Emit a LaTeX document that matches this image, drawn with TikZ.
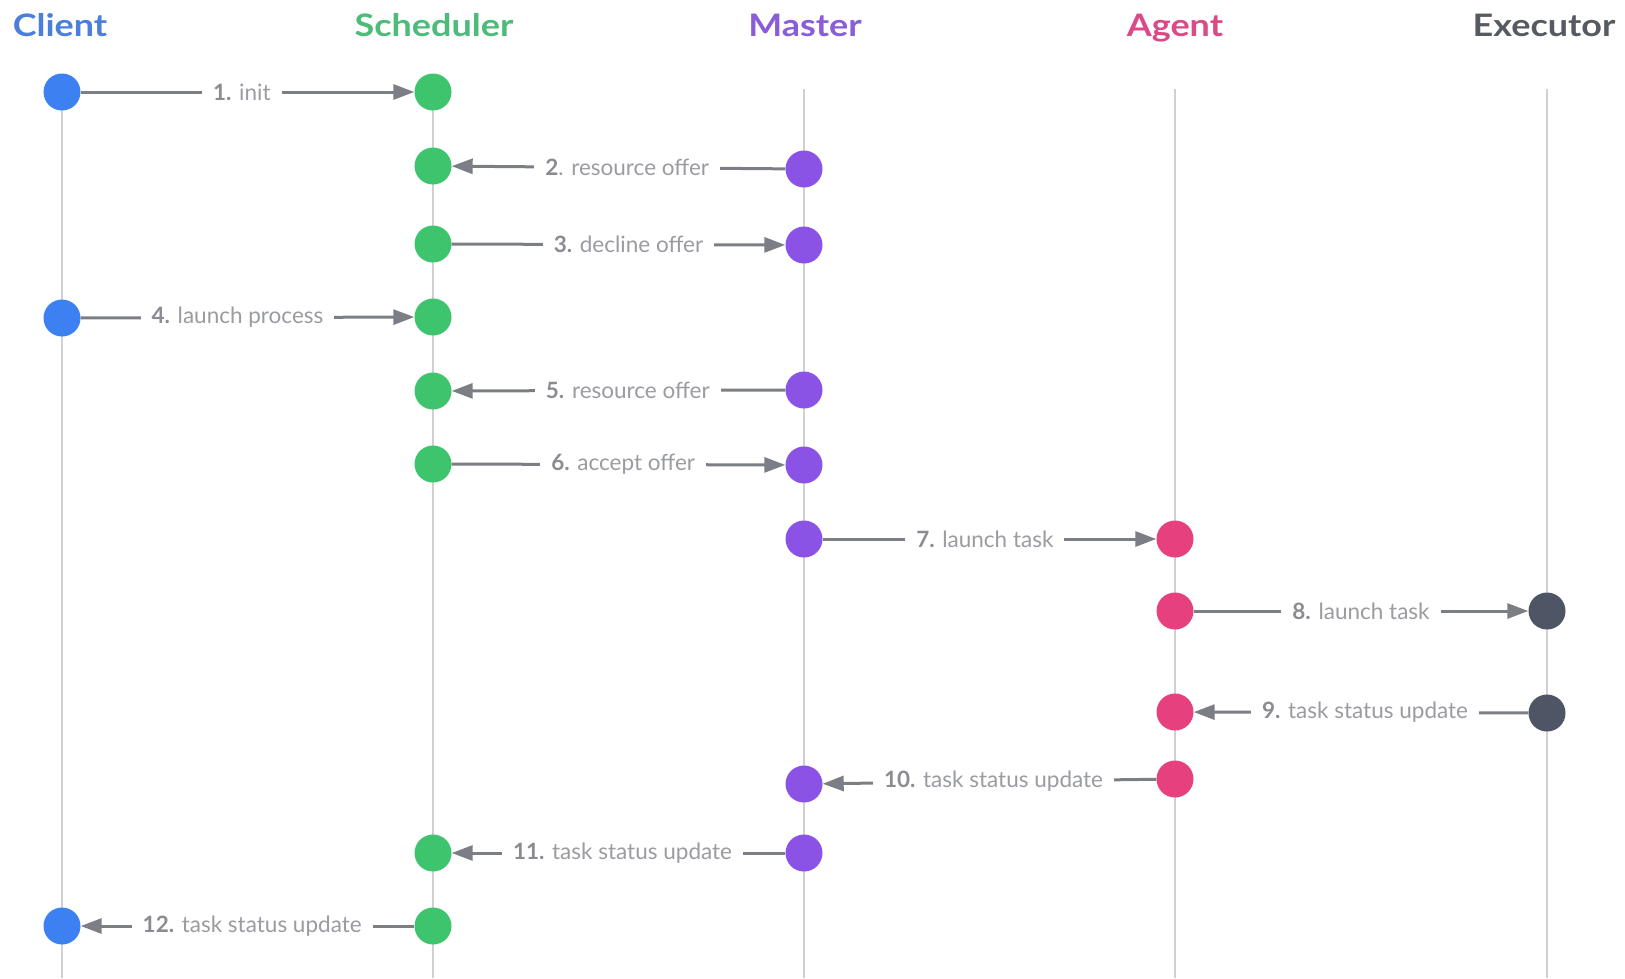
\documentclass[tikz,border=0pt]{standalone}
\usepackage{fontspec}
\setmainfont{Lato}
\newfontfamily\hdrfont[FakeStretch=1.16]{Lato}
\usetikzlibrary{arrows.meta}
\definecolor{cClient}{HTML}{3D80F2}
\definecolor{cSched}{HTML}{3EC46D}
\definecolor{cMaster}{HTML}{8B52E6}
\definecolor{cAgent}{HTML}{E6407E}
\definecolor{cExec}{HTML}{4E5565}
\definecolor{hClient}{HTML}{4A80DA}
\definecolor{hSched}{HTML}{4DBB7A}
\definecolor{hMaster}{HTML}{8A5CD8}
\definecolor{hAgent}{HTML}{DB4A86}
\definecolor{hExec}{HTML}{565A62}
\definecolor{lifegrey}{HTML}{D0D0D2}
\definecolor{msggrey}{HTML}{7C7E86}
\definecolor{txtgrey}{HTML}{9A9CA2}
\definecolor{numgrey}{HTML}{8A8C92}
\newcommand{\stepno}[1]{\textcolor{numgrey}{\textbf{#1}}}
\begin{document}
\begin{tikzpicture}[x=1pt,y=-1pt,
  header/.style={font=\hdrfont\fontsize{31}{36}\selectfont\bfseries, anchor=base},
  lifeline/.style={draw=lifegrey, line width=2.2pt},
  dot/.style={circle, fill=#1, minimum size=37pt, inner sep=0pt},
  msg/.style={draw=msggrey, line width=3pt, -{Triangle[length=21pt,width=15pt]}},
  lbl/.style={fill=white, text=txtgrey, inner xsep=11pt, inner ysep=4pt,
    font=\fontsize{22.5}{26}\selectfont}]
\useasboundingbox (0,0) rectangle (1625,978);

% lifelines
\foreach \n/\x in {cl/62, sc/433, ma/804, ag/1175, ex/1547}{
  \coordinate (\n top) at (\x,89);
  \coordinate (\n bot) at (\x,978);
  \draw[lifeline] (\n top) -- (\n bot);
}

% column headers
\node[header, text=hClient] (hcl) at (60,36) {Client};
\node[header, text=hSched] (hsc) at (434,36) {Scheduler};
\node[header, text=hMaster] (hma) at (805,36) {Master};
\node[header, text=hAgent] (hag) at (1175,36) {Agent};
\node[header, text=hExec, anchor=base east] (hex) at (1619,36) {Executor};

% activation dots
\node[dot=cClient] (c1) at (62,92) {};
\node[dot=cSched] (s1) at (433,92) {};
\node[dot=cSched] (s2) at (433,166) {};
\node[dot=cMaster] (m2) at (804,169) {};
\node[dot=cSched] (s3) at (433,244) {};
\node[dot=cMaster] (m3) at (804,245) {};
\node[dot=cClient] (c4) at (62,318) {};
\node[dot=cSched] (s4) at (433,317) {};
\node[dot=cSched] (s5) at (433,391) {};
\node[dot=cMaster] (m5) at (804,390) {};
\node[dot=cSched] (s6) at (433,464) {};
\node[dot=cMaster] (m6) at (804,465) {};
\node[dot=cMaster] (m7) at (804,539) {};
\node[dot=cAgent] (a7) at (1175,539) {};
\node[dot=cAgent] (a8) at (1175,611) {};
\node[dot=cExec] (e8) at (1547,611) {};
\node[dot=cAgent] (a9) at (1175,712) {};
\node[dot=cExec] (e9) at (1547,713) {};
\node[dot=cAgent] (a10) at (1175,779) {};
\node[dot=cMaster] (m10) at (804,784) {};
\node[dot=cMaster] (m11) at (804,853) {};
\node[dot=cSched] (s11) at (433,853) {};
\node[dot=cSched] (s12) at (433,926) {};
\node[dot=cClient] (c12) at (62,926) {};

% messages
\draw[msg] (c1) -- node[lbl, pos=0.483] (l1) {\stepno{1.} init} (s1);
\draw[msg] (m2) -- node[lbl, pos=0.474] (l2) {\stepno{2}. resource offer} (s2);
\draw[msg] (s3) -- node[lbl, pos=0.53] (l3) {\stepno{3.} decline offer} (m3);
\draw[msg] (c4) -- node[lbl, pos=0.47] (l4) {\stepno{4.} launch process} (s4);
\draw[msg] (m5) -- node[lbl, pos=0.472] (l5) {\stepno{5.} resource offer} (s5);
\draw[msg] (s6) -- node[lbl, pos=0.514] (l6) {\stepno{6.} accept offer} (m6);
\draw[msg] (m7) -- node[lbl, pos=0.486] (l7) {\stepno{7.} launch task} (a7);
\draw[msg] (a8) -- node[lbl, pos=0.5] (l8) {\stepno{8.} launch task} (e8);
\draw[msg] (e9) -- node[lbl, pos=0.488] (l9) {\stepno{9.} task status update} (a9);
\draw[msg] (a10) -- node[lbl, pos=0.488] (l10) {\stepno{10.} task status update} (m10);
\draw[msg] (m11) -- node[lbl, pos=0.488] (l11) {\stepno{11.} task status update} (s11);
\draw[msg] (s12) -- node[lbl, pos=0.486] (l12) {\stepno{12.} task status update} (c12);
\end{tikzpicture}
\end{document}
